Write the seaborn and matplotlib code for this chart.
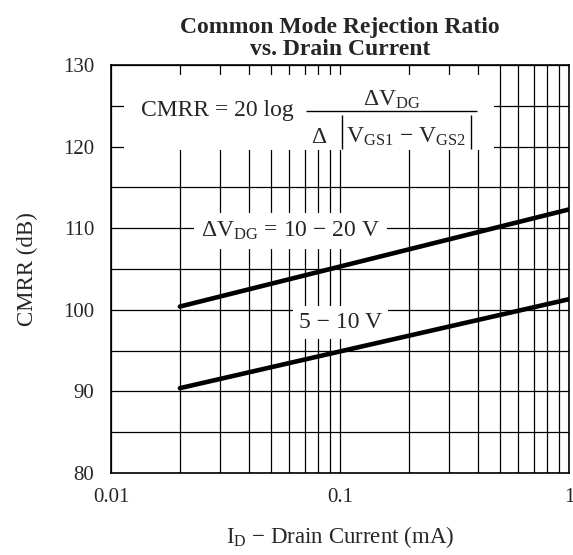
import numpy as np
import pandas as pd
import matplotlib
matplotlib.use("Agg")
import matplotlib.pyplot as plt
import matplotlib.ticker as mticker
from matplotlib.patches import Rectangle
import seaborn as sns

# values
drain_current = [0.02, 0.1, 1.0]
cmrr_10_20 = [100.4, 105.3, 112.3]
cmrr_5_10 = [90.4, 94.9, 101.3]

x_ticks = [0.01, 0.1, 1]
x_tick_labels = ["0.01", "0.1", "1"]
y_ticks = [80, 90, 100, 110, 120, 130]

sns.set_style("white")
plt.rcParams["font.family"] = ["Liberation Serif", "DejaVu Serif"]
plt.rcParams["mathtext.fontset"] = "custom"
plt.rcParams["mathtext.rm"] = "Liberation Serif"
plt.rcParams["mathtext.it"] = "Liberation Serif:italic"
plt.rcParams["mathtext.bf"] = "Liberation Serif:bold"

df = pd.DataFrame({
    "current": drain_current * 2,
    "cmrr": cmrr_10_20 + cmrr_5_10,
    "range": ["10-20"] * len(drain_current) + ["5-10"] * len(drain_current),
})

fig = plt.figure(figsize=(5.73, 5.55), dpi=100)
ax = fig.add_axes([0.1937, 0.1477, 0.7993, 0.7352])

sns.lineplot(data=df, x="current", y="cmrr", units="range", estimator=None,
             color="black", lw=3.3, ax=ax, zorder=8, legend=False)

ax.set_xscale("log")
ax.set_xlim(0.01, 1)
ax.set_ylim(80, 130)
ax.set_xticks(x_ticks)
ax.set_xticklabels(x_tick_labels)
ax.xaxis.set_minor_locator(mticker.LogLocator(base=10, subs=np.arange(2, 10)))
ax.xaxis.set_minor_formatter(mticker.NullFormatter())
ax.set_yticks(y_ticks)
ax.yaxis.set_minor_locator(mticker.MultipleLocator(5))
ax.grid(True, which="both", color="black", lw=0.9)
ax.tick_params(which="both", length=0, labelsize=15)
ax.tick_params(axis="x", pad=11)
ax.tick_params(axis="y", pad=12)
for sp in ax.spines.values():
    sp.set_color("black")
    sp.set_linewidth(1.2)

ax.set_xlabel(r"$\mathrm{I_D}$ − Drain Current (mA)", fontsize=16.5, labelpad=12)
ax.set_ylabel("CMRR (dB)", fontsize=16.5, labelpad=18)
ax.set_title("Common Mode Rejection Ratio\nvs. Drain Current", fontsize=17,
             fontweight="bold", linespacing=1.08, pad=7)

# formula box
tr = ax.transAxes
ax.add_patch(Rectangle((0.0284, 0.7917), 0.8078, 0.1838, transform=tr,
                       facecolor="white", edgecolor="none", zorder=6))
fs = 17
ax.text(0.0655, 0.875, "CMRR = 20 log", transform=tr, ha="left", va="baseline",
        fontsize=fs, zorder=7)
ax.text(0.6135, 0.90, r"$\Delta\mathrm{V_{DG}}$", transform=tr, ha="center",
        va="baseline", fontsize=fs, zorder=7)
ax.plot([0.4258, 0.7991], [0.8875, 0.8875], transform=tr, color="black", lw=1.0,
        zorder=7, solid_capstyle="butt")
ax.text(0.4541, 0.8088, r"$\Delta$", transform=tr, ha="center", va="baseline",
        fontsize=fs, zorder=7)
ax.text(0.6441, 0.8088, r"$\mathrm{V_{GS1}}$ − $\mathrm{V_{GS2}}$", transform=tr,
        ha="center", va="baseline", fontsize=fs, zorder=7)
for bx in [0.5044, 0.786]:
    ax.plot([bx, bx], [0.7941, 0.8775], transform=tr, color="black", lw=1.0,
            zorder=7, solid_capstyle="butt")

ax.text(0.392, 0.5792, r"$\Delta\mathrm{V_{DG}}$ = 10 − 20 V", transform=tr,
        ha="center", va="baseline", fontsize=fs,
        bbox=dict(facecolor="white", edgecolor="none", pad=5), zorder=7)
ax.text(0.501, 0.355, "5 − 10 V", transform=tr, ha="center", va="baseline",
        fontsize=fs, bbox=dict(facecolor="white", edgecolor="none", pad=4.5), zorder=7)

fig.savefig("out.png", dpi=100)
